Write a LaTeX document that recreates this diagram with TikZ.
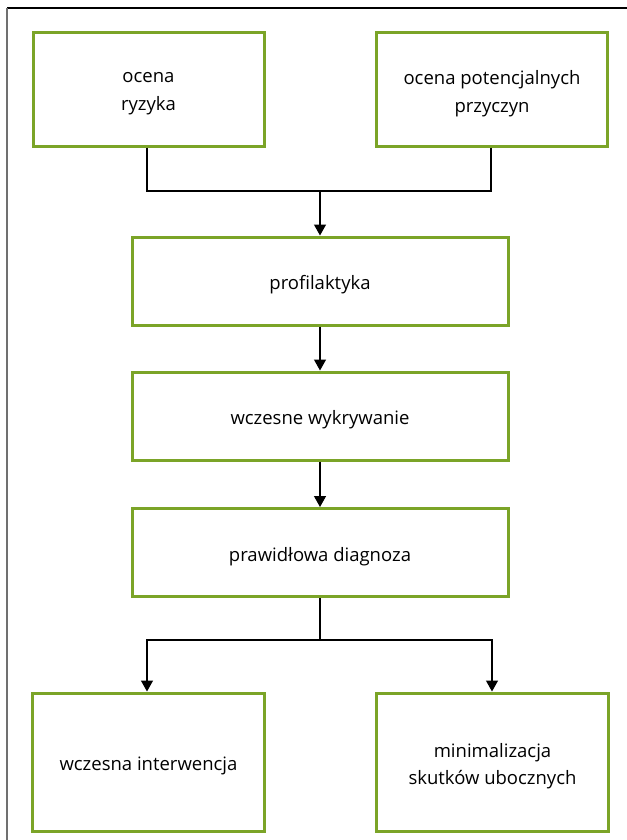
\documentclass[tikz,border=0pt]{standalone}
\usepackage{fontspec}
\setmainfont{Open Sans}
\usetikzlibrary{arrows.meta}
\definecolor{boxgreen}{HTML}{7BA428}
\definecolor{framegray}{HTML}{707070}
\tikzset{
  stepbox/.style={draw=boxgreen, line width=3pt, fill=white, inner sep=0pt},
  steptext/.style={align=center, inner sep=0pt, yshift=-4pt,
    font=\fontsize{18.5}{27.5}\selectfont},
  link/.style={line width=1.3pt, draw=black},
  arrowlink/.style={link, -{Triangle[length=11pt,width=12pt]}},
}
\begin{document}
\begin{tikzpicture}[x=1pt,y=-1pt]
  \useasboundingbox (0,0) rectangle (626,840);
  % page frame
  \draw[line width=1.3pt, black] (7,8) -- (640,8);
  \draw[line width=1.8pt, framegray] (7,8) -- (7,850);

  % boxes
  \node[stepbox, minimum width=231pt, minimum height=113pt] (risk) at (148.5,89.5) {};
  \node[stepbox, minimum width=231pt, minimum height=113pt] (causes) at (492,89.5) {};
  \node[stepbox, minimum width=376pt, minimum height=88pt] (prev) at (320,281) {};
  \node[stepbox, minimum width=376pt, minimum height=88pt] (early) at (320,416) {};
  \node[stepbox, minimum width=376pt, minimum height=88pt] (diag) at (320,552.5) {};
  \node[stepbox, minimum width=232pt, minimum height=138pt] (interv) at (148.5,762) {};
  \node[stepbox, minimum width=232pt, minimum height=138pt] (minim) at (492.5,762) {};

  % box captions
  \node[steptext] (risk-t) at (risk) {ocena\\ryzyka};
  \node[steptext] (causes-t) at (causes) {ocena potencjalnych\\przyczyn};
  \node[steptext] (prev-t) at (prev) {profilaktyka};
  \node[steptext] (early-t) at (early) {wczesne wykrywanie};
  \node[steptext] (diag-t) at (diag) {prawidłowa diagnoza};
  \node[steptext] (interv-t) at (interv) {wczesna interwencja};
  \node[steptext] (minim-t) at (minim) {minimalizacja\\skutków ubocznych};

  % junction points
  \coordinate (j1) at (320,191);
  \coordinate (j2) at (320,640);

  % connectors
  \draw[link] (risk.south -| 147,0) |- (j1);
  \draw[link] (causes.south -| 491,0) |- (j1);
  \draw[arrowlink] (j1) -- (prev.north);
  \draw[arrowlink] (prev) -- (early);
  \draw[arrowlink] (early) -- (diag);
  \draw[link] (diag.south) -- (j2);
  \draw[arrowlink] (j2) -| (interv.north -| 147,0);
  \draw[arrowlink] (j2) -| (minim.north -| 492,0);
\end{tikzpicture}
\end{document}
